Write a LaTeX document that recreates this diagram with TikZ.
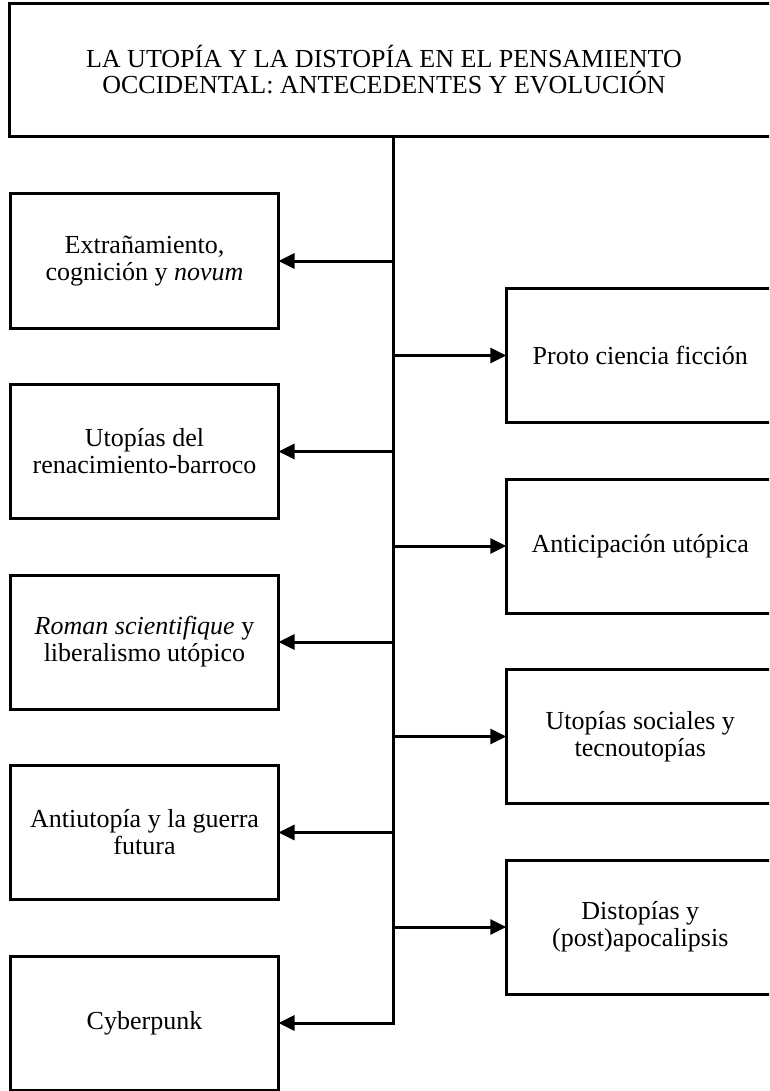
\documentclass[tikz,border=0pt]{standalone}
\usepackage{fontspec}
\setmainfont{Liberation Serif}
\usetikzlibrary{arrows.meta}
\begin{document}
\begin{tikzpicture}[x=1pt,y=-1pt,
  box/.style={draw, line width=3pt, minimum width=268pt, minimum height=134pt,
    inner sep=0pt, outer sep=0pt, align=center,
    font=\fontsize{26}{27}\selectfont},
  link/.style={line width=3pt, line join=miter,
    -{Triangle[length=16pt,width=15pt]}},
]
\useasboundingbox (0,0) rectangle (769,1091);
\clip (0,0) rectangle (769,1091);

% heading
\node[draw, line width=3pt, minimum width=768pt, minimum height=133pt,
  inner sep=0pt, outer sep=0pt] (titlebox) at (393,69.8) {};
\node[align=center, font=\fontsize{26}{26}\selectfont] (title) at (384,69.8)
  {LA UTOPÍA Y LA DISTOPÍA EN EL PENSAMIENTO\\OCCIDENTAL: ANTECEDENTES Y EVOLUCIÓN};

% central spine
\coordinate (spine) at (393.3,0);

% left column
\node[box] (L1) at (144.5,261)   {Extrañamiento,\\cognición y \textit{novum}};
\node[box] (L2) at (144.5,451.5) {Utopías del\\renacimiento-barroco};
\node[box] (L3) at (144.5,642)   {\textit{Roman scientifique} y\\liberalismo utópico};
\node[box] (L4) at (144.5,832.5) {Antiutopía y la guerra\\futura};
\node[box] (L5) at (144.5,1023)  {Cyberpunk};

% right column
\node[box] (R1) at (640.3,355.5) {Proto ciencia ficción};
\node[box] (R2) at (640.3,546)   {Anticipación utópica};
\node[box] (R3) at (640.3,736.5) {Utopías sociales y\\tecnoutopías};
\node[box] (R4) at (640.3,927)   {Distopías y\\(post)apocalipsis};

% connectors
\draw[link] (titlebox.south -| spine) -- (L5.east -| spine) -- (L5.east);
\foreach \n in {L1,L2,L3,L4}
  \draw[link] (\n.east -| spine) -- (\n.east);
\foreach \n in {R1,R2,R3,R4}
  \draw[link] (\n.west -| spine) -- (\n.west);
\end{tikzpicture}
\end{document}
